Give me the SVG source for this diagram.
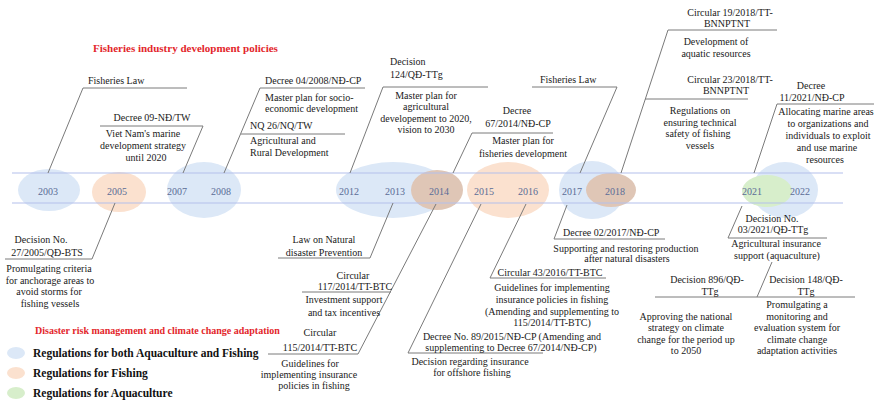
<svg xmlns="http://www.w3.org/2000/svg" width="874" height="404" viewBox="0 0 874 404">
<style>
text{font-family:"Liberation Serif","Times New Roman",serif;font-size:10px;fill:#1a1a1a}
.c{text-anchor:middle}
.yr{font-size:10px;fill:#5a6c96;text-anchor:middle}
.red{font-weight:bold;fill:#e3262b}
.leg{font-weight:bold;font-size:11.5px;fill:#111}
.blue{fill:#dce8f7}
.orange{fill:#fbe1cf}
.tan{fill:#dfc6b6}
.green{fill:#d7eecb}
.tl{stroke:#b4c0ec;stroke-width:1.2;fill:none}
.ln{stroke:#7a7a7a;stroke-width:1;fill:none}
</style>
<rect width="874" height="404" fill="#ffffff"/>

<g id="timeline">
<ellipse class="blue" cx="49" cy="190" rx="31" ry="21"/>
<ellipse class="orange" cx="119" cy="192" rx="27" ry="20"/>
<ellipse class="blue" cx="204" cy="190" rx="37" ry="28"/>
<ellipse class="blue" cx="393" cy="190" rx="57" ry="28"/>
<ellipse class="tan" cx="437" cy="190" rx="26" ry="20"/>
<ellipse class="orange" cx="508" cy="190" rx="41" ry="28"/>
<ellipse class="blue" cx="592" cy="190" rx="33" ry="29"/>
<ellipse class="tan" cx="611" cy="190" rx="25" ry="17"/>
<ellipse class="blue" cx="785" cy="190" rx="33" ry="28"/>
<ellipse class="green" cx="767" cy="191" rx="25" ry="16"/>
<line class="tl" x1="12" y1="173" x2="843" y2="173"/>
<line class="tl" x1="12" y1="203" x2="843" y2="203"/>
<text class="yr" x="48" y="195">2003</text>
<text class="yr" x="117" y="195">2005</text>
<text class="yr" x="177" y="195">2007</text>
<text class="yr" x="221" y="195">2008</text>
<text class="yr" x="349" y="195">2012</text>
<text class="yr" x="395" y="195">2013</text>
<text class="yr" x="439" y="195">2014</text>
<text class="yr" x="484" y="195">2015</text>
<text class="yr" x="528" y="195">2016</text>
<text class="yr" x="572" y="195">2017</text>
<text class="yr" x="615" y="195">2018</text>
<text class="yr" x="752" y="195">2021</text>
<text class="yr" x="800" y="195">2022</text>
</g>

<g id="connectors">
<polyline class="ln" points="187,88 83,88 48,173"/>
<polyline class="ln" points="100,126 203,126 183,173"/>
<polyline class="ln" points="365,88 260,88 224,173"/>
<line class="ln" x1="241" y1="134" x2="345" y2="134"/>
<polyline class="ln" points="488,87 383,87 350,173"/>
<polyline class="ln" points="553,133 472,133 453,173"/>
<polyline class="ln" points="532,87 617,87 580,173"/>
<polyline class="ln" points="777,30 668,30 621,173"/>
<line class="ln" x1="645" y1="99" x2="748" y2="99"/>
<polyline class="ln" points="874,104 777,104 754,173"/>
<polyline class="ln" points="5,259 92,259 115,203"/>
<polyline class="ln" points="278,258 370,258 393,203"/>
<polyline class="ln" points="268,354 358,354 436,204"/>
<line class="ln" x1="302" y1="292" x2="391" y2="292"/>
<polyline class="ln" points="481,204 408,353 543,353"/>
<polyline class="ln" points="526,204 490,278 606,278"/>
<polyline class="ln" points="567,205 554,239 665,239"/>
<polyline class="ln" points="742,206 728,238 827,238"/>
<line class="ln" x1="655" y1="297" x2="855" y2="297"/>
<line class="ln" x1="772" y1="262" x2="757" y2="297"/>
</g>

<g id="title-fisheries"><text class="red" x="93" y="52" style="font-size:11px">Fisheries industry development policies</text></g>

<g id="n-fisheries-law-2003"><text x="88" y="84">Fisheries Law</text></g>

<g id="n-decree-09">
<text class="c" x="152" y="121">Decree 09-NĐ/TW</text>
<text class="c" x="143" y="136.5">Viet Nam's marine</text>
<text class="c" x="143" y="149">development strategy</text>
<text class="c" x="146" y="160.5">until 2020</text>
</g>

<g id="n-decree-04-2008">
<text x="265" y="84">Decree 04/2008/NĐ-CP</text>
<text x="265" y="100.5">Master plan for socio-</text>
<text x="265" y="112">economic development</text>
</g>

<g id="n-nq-26">
<text x="250" y="129">NQ 26/NQ/TW</text>
<text x="250" y="144">Agricultural and</text>
<text x="250" y="156">Rural Development</text>
</g>

<g id="n-decision-124">
<text x="390" y="65">Decision</text>
<text x="390" y="78">124/QĐ-TTg</text>
<text class="c" x="426" y="98.5">Master plan for</text>
<text class="c" x="426" y="110">agricultural</text>
<text class="c" x="426" y="121.5">developement to 2020,</text>
<text class="c" x="426" y="133">vision to 2030</text>
</g>

<g id="n-decree-67-2014">
<text class="c" x="517" y="113.5">Decree</text>
<text class="c" x="518" y="126.5">67/2014/NĐ-CP</text>
<text class="c" x="523" y="143.5">Master plan for</text>
<text class="c" x="523" y="156.5">fisheries development</text>
</g>

<g id="n-fisheries-law-2017"><text x="540" y="83">Fisheries Law</text></g>

<g id="n-circular-19-2018">
<text class="c" x="730" y="16">Circular 19/2018/TT-</text>
<text class="c" x="727" y="27">BNNPTNT</text>
<text class="c" x="716" y="44.5">Development of</text>
<text class="c" x="716" y="56.5">aquatic resources</text>
</g>

<g id="n-circular-23-2018">
<text class="c" x="730" y="82.5">Circular 23/2018/TT-</text>
<text class="c" x="726" y="94">BNNPTNT</text>
<text class="c" x="700" y="113.5">Regulations on</text>
<text class="c" x="700" y="125.5">ensuring technical</text>
<text class="c" x="698" y="137">safety of fishing</text>
<text class="c" x="700" y="148.5">vessels</text>
</g>

<g id="n-decree-11-2021">
<text class="c" x="811" y="89">Decree</text>
<text class="c" x="812" y="100.5">11/2021/NĐ-CP</text>
<text class="c" x="826" y="114.5">Allocating marine areas</text>
<text class="c" x="828" y="126.5">to organizations and</text>
<text class="c" x="828" y="138.5">individuals to exploit</text>
<text class="c" x="827" y="150.5">and use marine</text>
<text class="c" x="825" y="162.5">resources</text>
</g>

<g id="n-decision-27-2005">
<text class="c" x="41" y="242.5">Decision No.</text>
<text class="c" x="47" y="256">27/2005/QĐ-BTS</text>
<text class="c" x="49" y="272">Promulgating criteria</text>
<text class="c" x="50" y="283.5">for anchorage areas to</text>
<text class="c" x="49" y="295">avoid storms for</text>
<text class="c" x="50" y="306.5">fishing vessels</text>
</g>

<g id="n-law-natural-disaster">
<text class="c" x="324" y="242.5">Law on Natural</text>
<text class="c" x="324" y="255.5">disaster Prevention</text>
</g>

<g id="n-circular-117-2014">
<text class="c" x="353" y="278.5">Circular</text>
<text class="c" x="355" y="290">117/2014/TT-BTC</text>
<text class="c" x="344" y="302.5">Investment support</text>
<text class="c" x="344" y="315.5">and tax incentives</text>
</g>

<g id="n-circular-115-2014">
<text class="c" x="320" y="335.5">Circular</text>
<text class="c" x="320" y="351">115/2014/TT-BTC</text>
<text class="c" x="310" y="367">Guidelines for</text>
<text class="c" x="309" y="378">implementing insurance</text>
<text class="c" x="314" y="389">policies in fishing</text>
</g>

<g id="n-circular-43-2016">
<text class="c" x="550" y="276">Circular 43/2016/TT-BTC</text>
<text class="c" x="552" y="290.5">Guidelines for implementing</text>
<text class="c" x="552" y="302.5">insurance policies in fishing</text>
<text class="c" x="552" y="314.5">(Amending and supplementing to</text>
<text class="c" x="552" y="325.5">115/2014/TT-BTC)</text>
</g>

<g id="n-decree-89-2015">
<text class="c" x="512" y="339.5">Decree No. 89/2015/NĐ-CP (Amending and</text>
<text class="c" x="511" y="350.5">supplementing to Decree 67/2014/NĐ-CP)</text>
<text class="c" x="470" y="364.5">Decision regarding insurance</text>
<text class="c" x="472" y="376">for offshore fishing</text>
</g>

<g id="n-decree-02-2017">
<text x="563" y="236">Decree 02/2017/NĐ-CP</text>
<text class="c" x="626" y="251.5">Supporting and restoring production</text>
<text class="c" x="627" y="262">after natural disasters</text>
</g>

<g id="n-decision-03-2021">
<text class="c" x="772" y="221.5">Decision No.</text>
<text class="c" x="773" y="233">03/2021/QĐ-TTg</text>
<text class="c" x="776" y="246.5">Agricultural insurance</text>
<text class="c" x="777" y="258.5">support (aquaculture)</text>
</g>

<g id="n-decision-896">
<text class="c" x="707" y="282.5">Decision 896/QĐ-</text>
<text class="c" x="710" y="294.5">TTg</text>
<text class="c" x="686" y="319.5">Approving the national</text>
<text class="c" x="686" y="331">strategy on climate</text>
<text class="c" x="686" y="342.5">change for the period up</text>
<text class="c" x="686" y="354">to 2050</text>
</g>

<g id="n-decision-148">
<text class="c" x="806" y="282.5">Decision 148/QĐ-</text>
<text class="c" x="806" y="294.5">TTg</text>
<text class="c" x="797" y="307.5">Promulgating a</text>
<text class="c" x="797" y="319.5">monitoring and</text>
<text class="c" x="797" y="331">evaluation system for</text>
<text class="c" x="797" y="342.5">climate change</text>
<text class="c" x="797" y="354">adaptation activities</text>
</g>

<g id="title-disaster"><text class="red" x="35" y="334">Disaster risk management and climate change adaptation</text></g>

<g id="legend">
<ellipse class="blue" cx="16" cy="353" rx="9" ry="6"/>
<ellipse class="orange" cx="16" cy="373" rx="9" ry="6"/>
<ellipse class="green" cx="16" cy="393" rx="9" ry="6"/>
<text class="leg" x="33" y="357">Regulations for both Aquaculture and Fishing</text>
<text class="leg" x="33" y="377">Regulations for Fishing</text>
<text class="leg" x="33" y="397">Regulations for Aquaculture</text>
</g>
</svg>
